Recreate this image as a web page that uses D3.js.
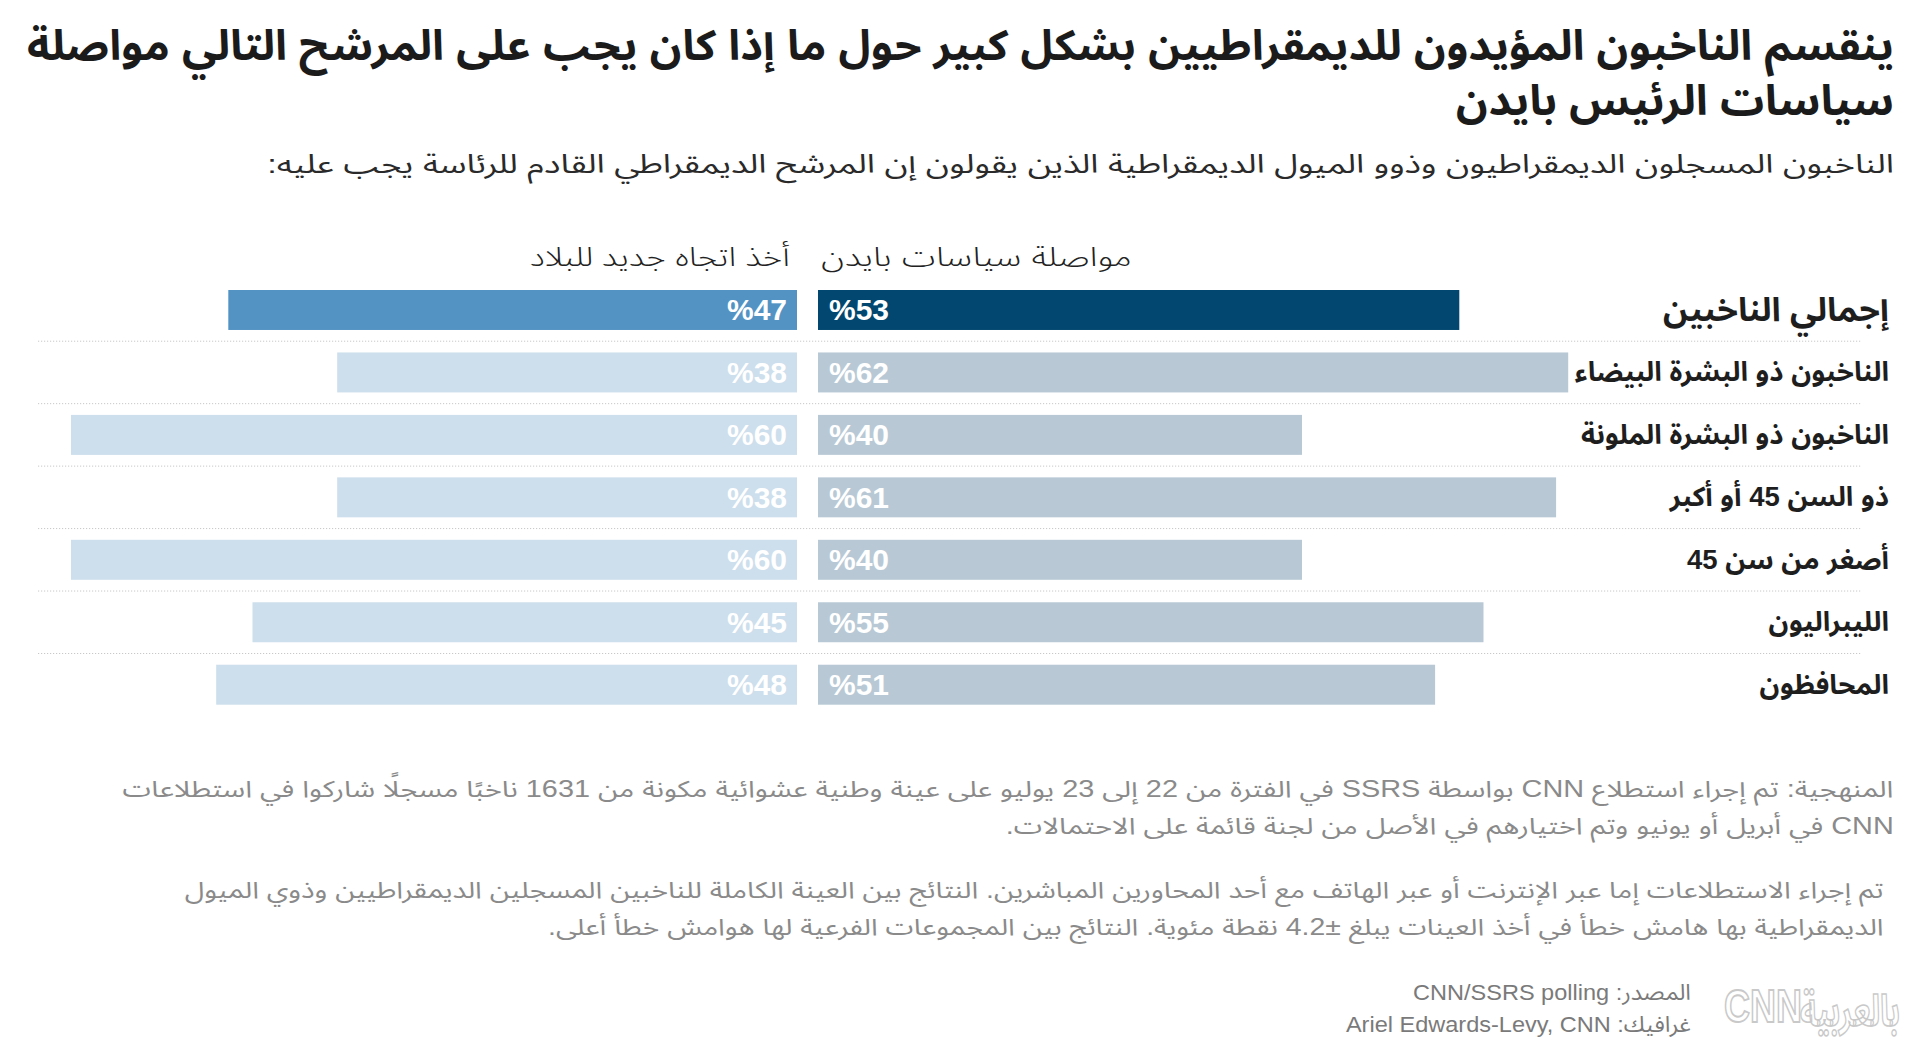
<!DOCTYPE html>
<html><head><meta charset="utf-8">
<script src="https://cdn.jsdelivr.net/npm/d3@7"></script>
<style>body{margin:0;background:#fff} svg{display:block}</style>
</head><body>
<script>
// ---- data ----
const categories = [
  "إجمالي الناخبين",
  "الناخبون ذو البشرة البيضاء",
  "الناخبون ذو البشرة الملونة",
  "ذو السن 45 أو أكبر",
  "أصغر من سن 45",
  "الليبراليون",
  "المحافظون"
];
const continueValues = [53, 62, 40, 61, 40, 55, 51];
const newDirectionValues = [47, 38, 60, 38, 60, 45, 48];
const seriesLabels = ["مواصلة سياسات بايدن", "أخذ اتجاه جديد للبلاد"];
const titleLines = [
  "ينقسم الناخبون المؤيدون للديمقراطيين بشكل كبير حول ما إذا كان يجب على المرشح التالي مواصلة",
  "سياسات الرئيس بايدن"
];
const subtitleText = "الناخبون المسجلون الديمقراطيون وذوو الميول الديمقراطية الذين يقولون إن المرشح الديمقراطي القادم للرئاسة يجب عليه:";
const noteLines1 = [
  "المنهجية: تم إجراء استطلاع CNN بواسطة SSRS في الفترة من 22 إلى 23 يوليو على عينة وطنية عشوائية مكونة من 1631 ناخبًا مسجلًا شاركوا في استطلاعات",
  "CNN في أبريل أو يونيو وتم اختيارهم في الأصل من لجنة قائمة على الاحتمالات."
];
const noteLines2 = [
  "تم إجراء الاستطلاعات إما عبر الإنترنت أو عبر الهاتف مع أحد المحاورين المباشرين. النتائج بين العينة الكاملة للناخبين المسجلين الديمقراطيين وذوي الميول",
  "الديمقراطية بها هامش خطأ في أخذ العينات يبلغ ±4.2 نقطة مئوية. النتائج بين المجموعات الفرعية لها هوامش خطأ أعلى."
];
const sourceLines = ["المصدر: CNN/SSRS polling", "غرافيك: Ariel Edwards-Levy, CNN"];

// ---- setup ----
const W = 1920, H = 1063;
const AR = '"Liberation Sans", "Noto Sans Arabic", "Noto Kufi Arabic", "DejaVu Sans", sans-serif';
const LAT = '"Liberation Sans", Arial, sans-serif';
const svg = d3.select("body").append("svg").attr("width", W).attr("height", H);
svg.append("rect").attr("width", W).attr("height", H).attr("fill", "#fff");

function placeText(g, str, o) {
  const t = g.append("text")
    .attr("text-anchor", "middle")
    .attr("direction", o.dir || "rtl")
    .style("font-family", o.family || AR)
    .style("font-size", o.size + "px")
    .style("font-weight", o.weight || 400)
    .attr("fill", o.fill || "#222")
    .text(str);
  const w = t.node().getComputedTextLength();
  const sx = o.width ? o.width / w : (o.factor || 1);
  const vw = w * sx;
  const cx = o.right != null ? o.right - vw / 2 : o.left + vw / 2;
  t.attr("transform", `translate(${cx},${o.y}) scale(${sx},1)`);
  return t;
}

// multi-line right-aligned paragraph as one text element; uniform horizontal condense
function paragraph(g, lines, o) {
  const t = g.append("text")
    .attr("direction", "rtl")
    .attr("text-anchor", "middle")
    .style("font-family", o.family || AR)
    .style("font-size", o.size + "px")
    .style("font-weight", o.weight || 400)
    .attr("fill", o.fill || "#222");
  const spans = lines.map((s, i) => t.append("tspan").attr("y", i * o.lh).text(s));
  const widths = spans.map(sp => sp.node().getComputedTextLength());
  const sx = o.width / widths[0];
  spans.forEach((sp, i) => sp.attr("x", -widths[i] / 2));
  t.attr("transform", `translate(${o.right},${o.y}) scale(${sx},1)`);
  return t;
}

// ---- titles ----
paragraph(svg, titleLines, {right: 1894, width: 1867, y: 60, lh: 55, size: 42, weight: 700, fill: "#1b1b1b"});
placeText(svg, subtitleText, {right: 1894, width: 1627, y: 173, size: 26, weight: 400, fill: "#2a2a2a"});

// ---- scales ----
const x = d3.scaleLinear().domain([0, 100]).range([0, 1210]);
const y = d3.scaleBand().domain(categories).range([290, 704.7]).paddingInner(0.36);
const bw = y.bandwidth();
const rightX0 = 818, leftX0 = 797;

// headers
placeText(svg, seriesLabels[0], {right: 1132, width: 311, y: 266, size: 27, weight: 300, fill: "#222"});
placeText(svg, seriesLabels[1], {right: 790, width: 260, y: 266, size: 27, weight: 300, fill: "#222"});

// separators
svg.append("g").selectAll("line").data(categories.slice(0, -1)).join("line")
  .attr("x1", 38).attr("x2", 1862)
  .attr("y1", d => y(d) + bw + (y.step() - bw) / 2)
  .attr("y2", d => y(d) + bw + (y.step() - bw) / 2)
  .attr("stroke", "#c8c8c8").attr("stroke-width", 1).attr("stroke-dasharray", "1.2,1.8");

const rows = categories.map((c, i) => ({c, i, cont: continueValues[i], nd: newDirectionValues[i]}));

// bars
const g = svg.append("g");
g.selectAll("rect.cont").data(rows).join("rect").attr("class", "cont")
  .attr("x", rightX0).attr("y", d => y(d.c)).attr("height", bw)
  .attr("width", d => x(d.cont))
  .attr("fill", d => d.i === 0 ? "#02476f" : "#b8c9d5");
g.selectAll("rect.nd").data(rows).join("rect").attr("class", "nd")
  .attr("x", d => leftX0 - x(d.nd)).attr("y", d => y(d.c)).attr("height", bw)
  .attr("width", d => x(d.nd))
  .attr("fill", d => d.i === 0 ? "#5393c4" : "#cddeec");

// value labels
g.selectAll("text.vc").data(rows).join("text").attr("class", "vc")
  .attr("x", rightX0 + 11).attr("y", d => y(d.c) + bw / 2 + 10.5)
  .attr("text-anchor", "start").attr("direction", "ltr")
  .style("font-family", LAT).style("font-size", "30px").style("font-weight", 700)
  .attr("fill", "#fff").text(d => "%" + d.cont);
g.selectAll("text.vn").data(rows).join("text").attr("class", "vn")
  .attr("x", leftX0 - 10).attr("y", d => y(d.c) + bw / 2 + 10.5)
  .attr("text-anchor", "end").attr("direction", "ltr")
  .style("font-family", LAT).style("font-size", "30px").style("font-weight", 700)
  .attr("fill", "#fff").text(d => "%" + d.nd);

// category labels
rows.forEach(d => {
  placeText(svg, d.c, {
    right: 1889, y: y(d.c) + bw / 2 + (d.i === 0 ? 11 : 9),
    size: d.i === 0 ? 33 : 27, weight: 700, fill: "#1e1e1e", factor: 1.02
  });
});

// notes
paragraph(svg, noteLines1, {right: 1894, width: 1772, y: 797, lh: 37, size: 23, fill: "#8a8a8a"});
paragraph(svg, noteLines2, {right: 1884, width: 1700, y: 898, lh: 37, size: 23, fill: "#8a8a8a"});

// source
paragraph(svg, sourceLines, {right: 1691, width: 278, y: 1000, lh: 32, size: 22, fill: "#7a7a7a"});

// logo
placeText(svg, "بالعربية", {right: 1900, width: 100, y: 1026, size: 44, weight: 700, fill: "#fff"})
  .attr("stroke", "#c9c9c9").attr("stroke-width", 1.6);
placeText(svg, "CNN", {left: 1724, width: 78, y: 1022, size: 46, weight: 700, family: LAT, dir: "ltr", fill: "#fff"})
  .attr("stroke", "#c9c9c9").attr("stroke-width", 1.8);
</script>
</body></html>
